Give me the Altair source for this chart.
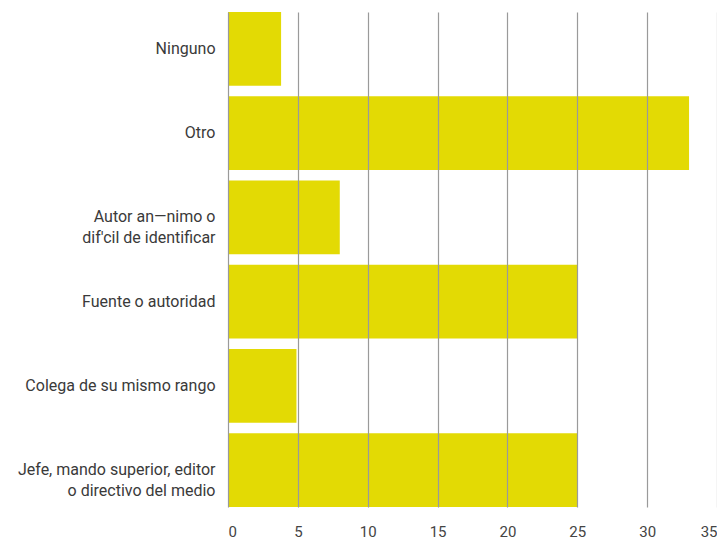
import altair as alt
import pandas as pd

categories = [
    "Ninguno",
    "Otro",
    "Autor an—nimo o|dif'cil de identificar",
    "Fuente o autoridad",
    "Colega de su mismo rango",
    "Jefe, mando superior, editor|o directivo del medio",
]
values = [3.8, 33.0, 8.0, 25.0, 4.9, 25.0]
x_ticks = [0, 5, 10, 15, 20, 25, 30, 35]

df = pd.DataFrame({"cat": categories, "val": values})

FONT = "Roboto"

chart = (
    alt.Chart(df)
    .mark_bar(color="#e3da04")
    .encode(
        x=alt.X(
            "val:Q",
            scale=alt.Scale(domain=[0, 35], nice=False),
            axis=alt.Axis(
                values=x_ticks,
                title=None,
                grid=True,
                gridColor="#9a9a9a",
                gridWidth=1.2,
                domain=False,
                ticks=False,
                labelPadding=17,
                labelFont=FONT,
                labelFontSize=15,
                labelColor="#444444",
                zindex=1,
            ),
        ),
        y=alt.Y(
            "cat:N",
            sort=categories,
            scale=alt.Scale(paddingInner=0.125, paddingOuter=0),
            axis=alt.Axis(
                title=None,
                domain=False,
                ticks=False,
                grid=False,
                labelPadding=13,
                labelFont=FONT,
                labelFontSize=16,
                labelColor="#3a3a3a",
                labelLineHeight=21,
                labelLimit=300,
                labelExpr="split(datum.label, '|')",
            ),
        ),
    )
    .properties(
        width=489,
        height=495,
        autosize=alt.AutoSizeParams(type="none"),
        padding={"left": 220, "top": 4, "right": 0, "bottom": 34},
    )
    .configure_view(stroke=None)
)

chart.save("out.html", embed_options={"renderer": "svg", "actions": False})
